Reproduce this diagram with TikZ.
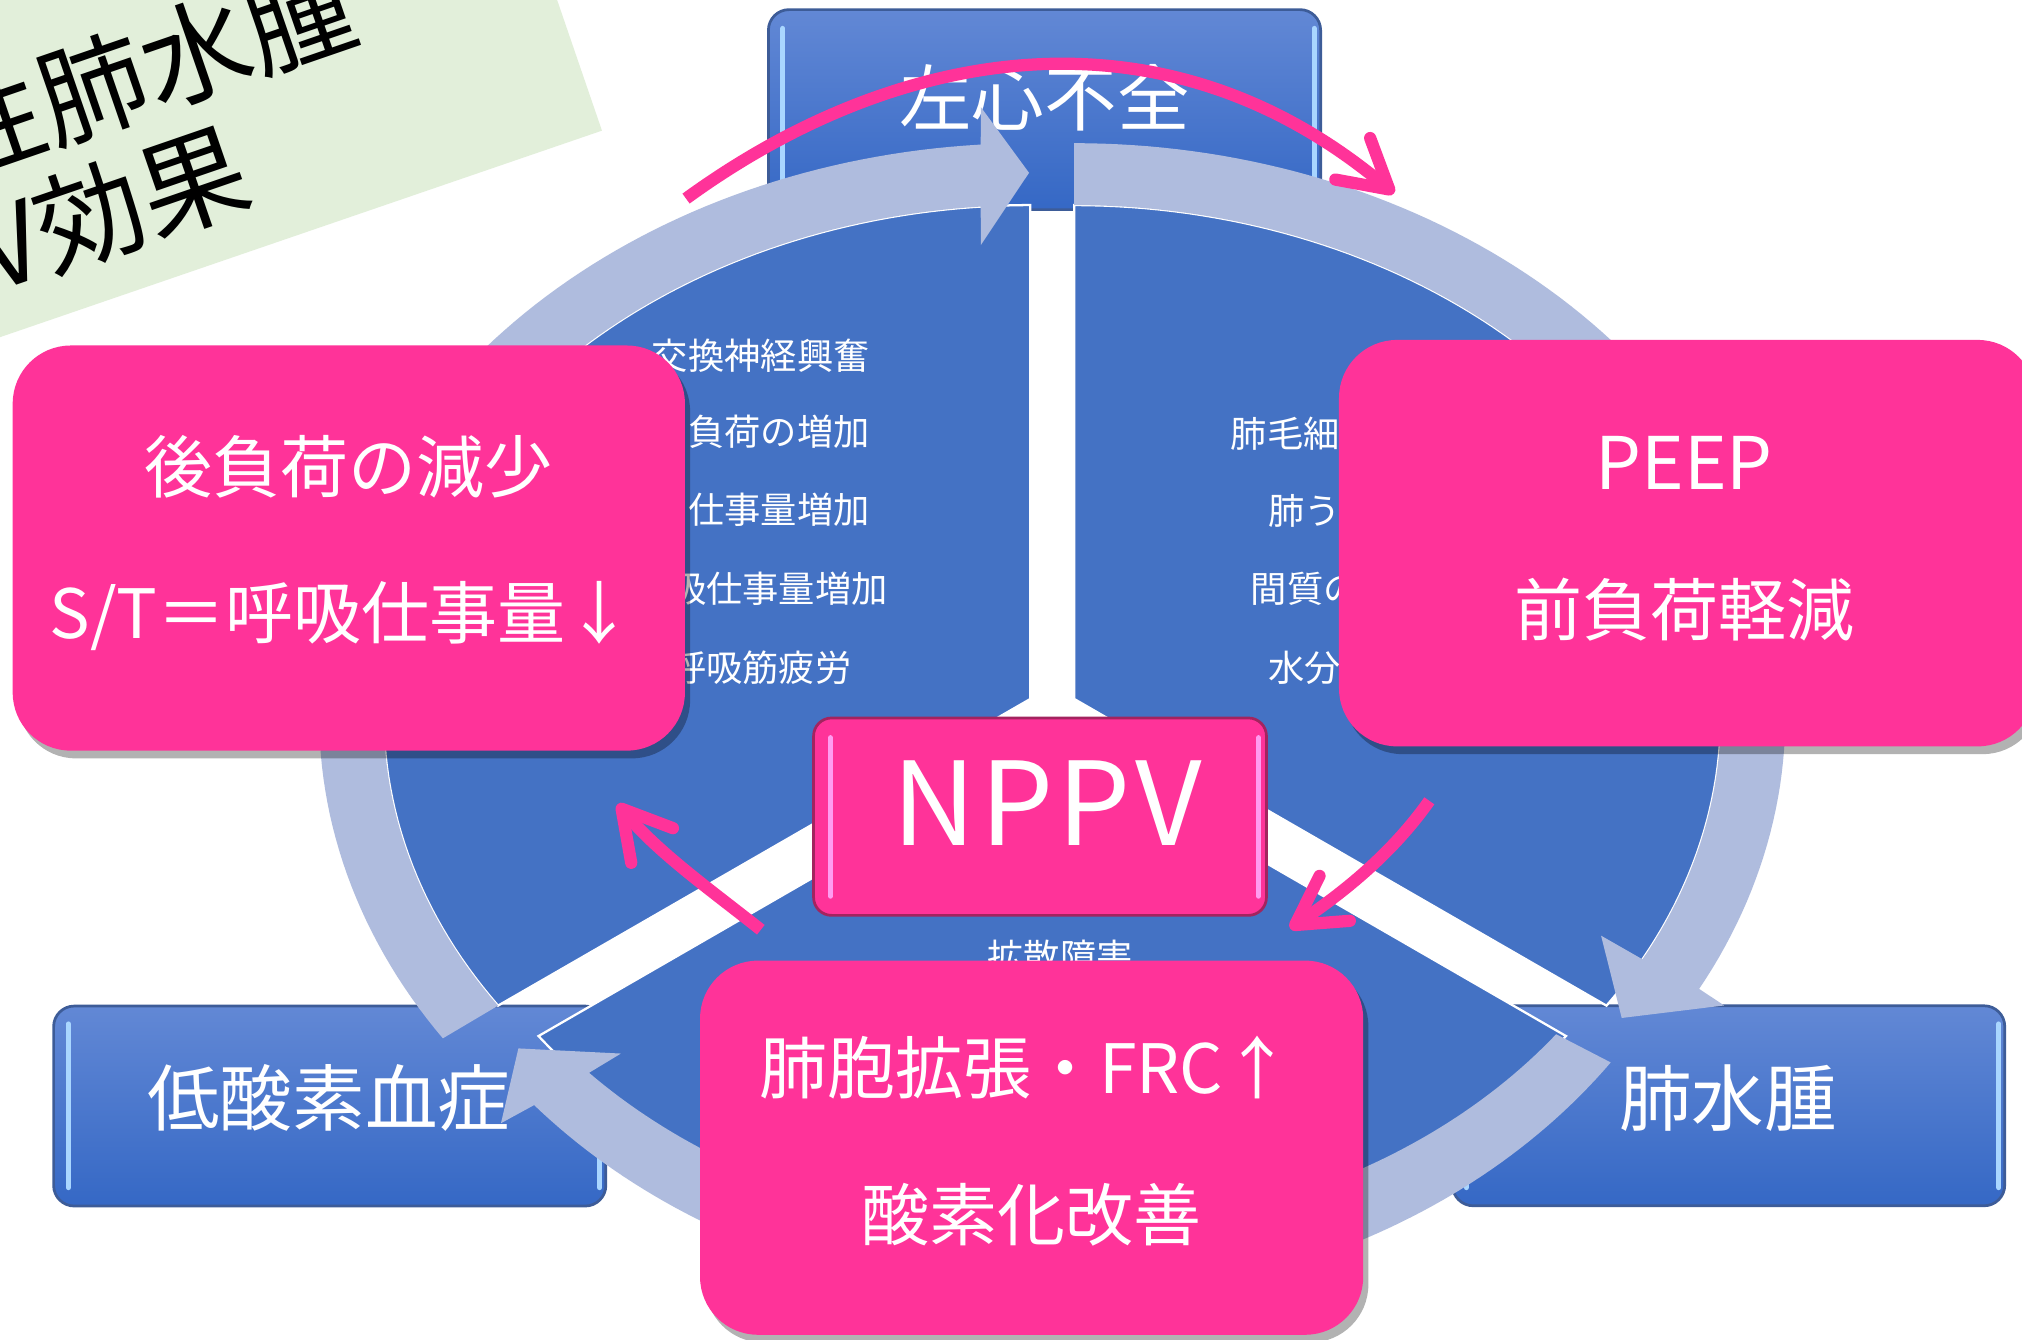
\documentclass[tikz,border=0pt]{standalone}
\usepackage{fontspec}
\setmainfont{Noto Sans CJK JP}
\usetikzlibrary{arrows.meta,shadows}
\definecolor{pinkc}{HTML}{FF3399}
\definecolor{secblue}{HTML}{4472C4}
\definecolor{bandc}{HTML}{AFBCDE}
\definecolor{greenc}{HTML}{E2EFDA}
\definecolor{bluetop}{HTML}{6288D5}
\definecolor{bluebot}{HTML}{3568C5}
\definecolor{bluebord}{HTML}{3D5C98}
\definecolor{bluehl}{HTML}{A9D6FF}
\definecolor{pinkbord}{HTML}{A3245F}
\definecolor{pinkhl}{HTML}{FF9CF0}
\newcommand{\fsz}[1]{\fontsize{#1}{#1}\selectfont}
\begin{document}
\begin{tikzpicture}[x=0.01cm,y=-0.01cm,
  bluebox/.style={draw=bluebord,line width=0.6pt,rounded corners=1.6mm,top color=bluetop,bottom color=bluebot,minimum width=4.28cm,minimum height=1.55cm,inner sep=0pt},
  pinkbox/.style={fill=pinkc,rounded corners=4.5mm,inner sep=0pt,drop shadow={shadow xshift=0.4mm,shadow yshift=-0.6mm,opacity=0.3,fill=black}},
  nppvbox/.style={draw=pinkbord,line width=0.6pt,fill=pinkc,rounded corners=1.4mm,inner sep=0pt,minimum width=3.51cm,minimum height=1.53cm},
  secfill/.style={fill=secblue,draw=white,line width=0.5pt},
  bandfill/.style={fill=bandc},
  txt/.style={text=white,inner sep=0pt},
  txtL/.style={txt,font=\fsz{16pt},text height=14.1pt,text depth=1.9pt},
  txtM/.style={txt,font=\fsz{15pt},text height=13.2pt,text depth=1.8pt},
  txtS/.style={txt,font=\fsz{8pt},text height=7pt,text depth=1pt},
  ttl/.style={inner sep=0pt,font=\fsz{24pt},text height=21.1pt,text depth=2.9pt,rotate=19,anchor=east,text=black},
  hl/.style={line width=1.1pt,line cap=round},
  parr/.style={draw=pinkc,line width=2.7pt,-{Straight Barb[length=3.7mm,width=4.2mm,round]}},
]
\useasboundingbox (0,0) rectangle (1568,1039);
\clip (0,0) rectangle (1568,1039);
\fill[white] (0,0) rectangle (1568,1039);

% title
\fill[greenc] (466.8,101.3) -- (337,-277) -- (-514,15) -- (-384.5,393.4) -- cycle;
\node[ttl] (title1) at (272,-1) {性肺水腫};
\node[ttl] (title2) at (190,126) {V効果};

% blue boxes
\node[bluebox] (lhf) at (810,85) {};
\node[bluebox] (hypox) at (255.7,857.7) {};
\node[bluebox] (edema) at (1340.5,857.5) {};
\draw[bluehl,hl] (607,22) -- (607,148);
\draw[bluehl,hl] (1019,22) -- (1019,148);
\draw[bluehl,hl] (53,794) -- (53,921);
\draw[bluehl,hl] (465,794) -- (465,921);
\draw[bluehl,hl] (1137,794) -- (1137,921);
\draw[bluehl,hl] (1550,794) -- (1550,921);
\node[txtL] (lhft) at (810,76) {左心不全};
\node[txtL] (hypoxt) at (255,851) {低酸素血症};
\node[txtL] (edemat) at (1340,851) {肺水腫};

% pie sectors
\filldraw[secfill] (799,542) -- plot[domain=270:145.4,samples=100,variable=\t] ({799+501.5*cos(\t)},{555+396*sin(\t)}) -- cycle;
\filldraw[secfill] (833,542) -- plot[domain=-90:34.6,samples=100,variable=\t] ({833+501.5*cos(\t)},{555+396*sin(\t)}) -- cycle;
\filldraw[secfill] (816,573.6) -- plot[domain=36.4:143.6,samples=100,variable=\t] ({816+495*cos(\t)},{572+390*sin(\t)}) -- cycle;

% cycle bands
\fill[bandfill] plot[domain=145.4:265.6,samples=100,variable=\t] ({799+501.5*cos(\t)},{555+396*sin(\t)})
  -- (760.6,190) -- (798,134) -- (760.6,83)
  -- plot[domain=266:145.7,samples=100,variable=\t] ({799+551.5*cos(\t)},{555+444*sin(\t)}) -- cycle;
\fill[bandfill] plot[domain=-90:28.5,samples=100,variable=\t] ({833+501.5*cos(\t)},{555+396*sin(\t)})
  -- (1241.6,725.6) -- (1257.6,789.4) -- (1337,779.7)
  -- plot[domain=28.5:-90,samples=100,variable=\t] ({833+551.5*cos(\t)},{555+444*sin(\t)}) -- cycle;
\fill[bandfill] plot[domain=36.8:137.4,samples=100,variable=\t] ({816+488*cos(\t)},{572+384*sin(\t)})
  -- (481.5,817) -- (402,813) -- (388.5,871)
  -- plot[domain=139.3:35.2,samples=100,variable=\t] ({816+530*cos(\t)},{572+437*sin(\t)}) -- cycle;

% sector texts
\node[txtS] (l1) at (590,276) {交換神経興奮};
\node[txtS] (l2) at (590,335) {\phantom{後}負荷の増加};
\node[txtS] (l3) at (590,395.5) {\phantom{心}仕事量増加};
\node[txtS] (l4) at (590,457) {\phantom{呼}吸仕事量増加};
\node[txtS] (l5) at (590,517.6) {呼吸筋疲労};
\node[txtS,anchor=west] (r1) at (953.8,336.6) {肺毛細};
\node[txtS,anchor=west] (r2) at (982.6,396) {肺う};
\node[txtS,anchor=west] (r3) at (969.4,457) {間質の};
\node[txtS,anchor=west] (r4) at (982.6,518) {水分};
\node[txtS] (b1) at (822,742) {拡散障害};

% NPPV
\node[nppvbox] (nppv) at (806.5,633.3) {};
\draw[pinkhl,hl] (644,572) -- (644,695);
\draw[pinkhl,hl] (976,572) -- (976,695);
\node[txt,font=\fsz{25.5pt}] (nppvt) at (812,622.6) {N\kern1pt P\kern1pt P\kern1pt V};

% pink boxes
\node[pinkbox,minimum width=5.21cm,minimum height=3.14cm] (afterload) at (270.5,425) {};
\node[txtM] (al1) at (270,362) {後負荷の減少};
\node[txtM] (al2) at (265,475) {S/T＝呼吸仕事量↓};
\node[pinkbox,minimum width=5.4cm,minimum height=3.15cm] (peep) at (1308.5,421.2) {};
\node[txt,font=\fsz{16pt}] (pe1) at (1306,359) {PEEP};
\node[txtM] (pe2) at (1306,473) {前負荷軽減};
\node[pinkbox,minimum width=5.14cm,minimum height=2.9cm] (alv) at (800,890) {};
\node[txtM] (av1) at (795,828) {肺胞拡張・FRC↑};
\node[txtM] (av2) at (800,942) {酸素化改善};

% pink arrows
\coordinate (aS) at (532,154); \coordinate (aE) at (1081,150);
\draw[parr] (aS) .. controls (693.2,36.8) and (899.8,-2.1) .. (aE);
\coordinate (bS) at (1108.4,621); \coordinate (bE) at (1000.4,720);
\draw[parr] (bS) .. controls (1079.6,661.9) and (1041.9,692) .. (bE);
\coordinate (cS) at (590,721); \coordinate (cE) at (479,623.5);
\draw[parr] (cS) .. controls (551.6,690.5) and (510.3,661.2) .. (cE);
\end{tikzpicture}
\end{document}
